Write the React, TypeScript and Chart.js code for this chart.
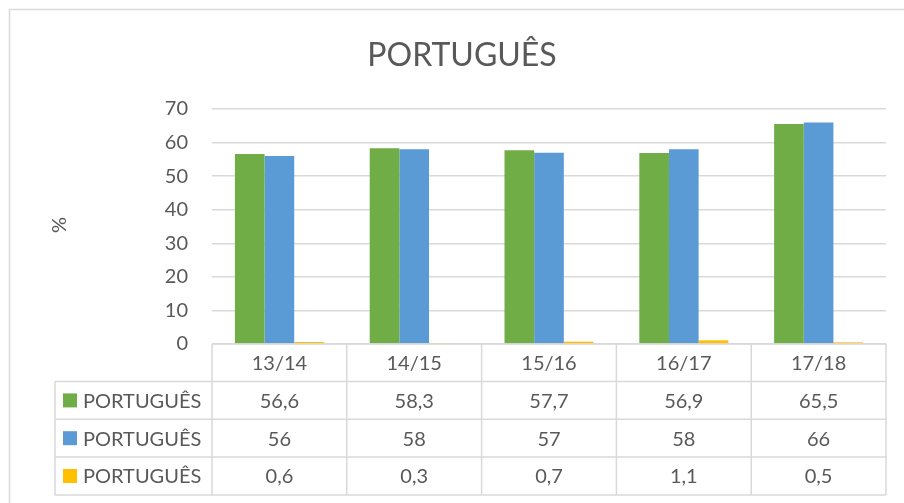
import React, { useEffect, useRef } from "react";
import { Chart, registerables } from "chart.js";

Chart.register(...registerables);

const chartTitle = "PORTUGUÊS";
const axisTitle = "%";
const categories = ["13/14", "14/15", "15/16", "16/17", "17/18"];
const seriesNames = ["PORTUGUÊS", "PORTUGUÊS", "PORTUGUÊS"];
const seriesGreen = [56.6, 58.3, 57.7, 56.9, 65.5];
const seriesBlue = [56, 58, 57, 58, 66];
const seriesYellow = [0.6, 0.3, 0.7, 1.1, 0.5];
const yMin = 0;
const yMax = 70;
const yStep = 10;

const COLORS = ["#70AD47", "#5B9BD5", "#FFC000"];
const TEXT = "#595959";
const GRID = "#D9D9D9";
const FONT = "Lato, 'Open Sans', sans-serif";

const fmt = (v: number) => String(v).replace(".", ",");

const decorPlugin = {
  id: "decor",
  beforeDraw(chart: any) {
    const ctx = chart.ctx;
    ctx.save();
    ctx.fillStyle = "#FFFFFF";
    ctx.fillRect(0, 0, chart.width, chart.height);
    ctx.strokeStyle = "#D9D9D9";
    ctx.lineWidth = 1.5;
    ctx.beginPath();
    ctx.moveTo(9.5, chart.height + 2);
    ctx.lineTo(9.5, 9.5);
    ctx.lineTo(chart.width + 2, 9.5);
    ctx.stroke();
    ctx.restore();
  },
  afterDraw(chart: any) {
    const ctx = chart.ctx;
    const { left, right, bottom } = chart.chartArea;
    const n = categories.length;
    const colW = (right - left) / n;
    const headerH = 37.5;
    const rowH = 37.8;
    const legendLeft = 55;
    const tableBottom = bottom + headerH + rowH * 3;
    ctx.save();

    // title
    ctx.fillStyle = TEXT;
    ctx.font = `32px ${FONT}`;
    ctx.textAlign = "center";
    ctx.textBaseline = "middle";
    ctx.fillText(chartTitle, (left + right) / 2 - 87, 56);

    // axis title
    ctx.save();
    ctx.translate(60, 225);
    ctx.rotate(-Math.PI / 2);
    ctx.font = `20px ${FONT}`;
    ctx.fillText(axisTitle, 0, 0);
    ctx.restore();

    // table lines
    ctx.strokeStyle = GRID;
    ctx.lineWidth = 1.5;
    ctx.beginPath();
    ctx.moveTo(left, bottom);
    ctx.lineTo(right, bottom);
    for (let r = 0; r < 3; r++) {
      const y = bottom + headerH + rowH * r;
      ctx.moveTo(legendLeft, y);
      ctx.lineTo(right, y);
    }
    ctx.moveTo(legendLeft, tableBottom);
    ctx.lineTo(right, tableBottom);
    ctx.moveTo(legendLeft, bottom + headerH);
    ctx.lineTo(legendLeft, tableBottom);
    for (let i = 0; i <= n; i++) {
      const x = left + colW * i;
      ctx.moveTo(x, bottom);
      ctx.lineTo(x, tableBottom);
    }
    ctx.stroke();

    // header labels
    ctx.fillStyle = TEXT;
    ctx.font = `20px ${FONT}`;
    ctx.textAlign = "center";
    ctx.textBaseline = "middle";
    const xs = chart.scales.x;
    categories.forEach((c, i) => {
      ctx.fillText(c, xs.getPixelForValue(i), bottom + headerH / 2 + 1);
    });

    // rows
    const rows = [seriesGreen, seriesBlue, seriesYellow];
    rows.forEach((vals, r) => {
      const yc = bottom + headerH + rowH * r + rowH / 2 + 1;
      ctx.fillStyle = COLORS[r];
      ctx.fillRect(63, yc - 8, 14, 14);
      ctx.fillStyle = TEXT;
      ctx.textAlign = "left";
      ctx.fillText(seriesNames[r], 83, yc);
      ctx.textAlign = "center";
      vals.forEach((v, i) => {
        ctx.fillText(fmt(v), xs.getPixelForValue(i), yc);
      });
    });
    ctx.restore();
  },
};

export default function App() {
  const ref = useRef<HTMLCanvasElement | null>(null);
  useEffect(() => {
    if (!ref.current) return;
    const chart = new Chart(ref.current, {
      type: "bar",
      data: {
        labels: categories,
        datasets: [
          { label: seriesNames[0], data: seriesGreen, backgroundColor: COLORS[0] },
          { label: seriesNames[1], data: seriesBlue, backgroundColor: COLORS[1] },
          { label: seriesNames[2], data: seriesYellow, backgroundColor: COLORS[2] },
        ],
      },
      options: {
        responsive: false,
        animation: false,
        layout: { padding: { left: 0, right: 18, top: 109, bottom: 159 } },
        datasets: {
          bar: { categoryPercentage: 0.66, barPercentage: 1, borderWidth: 0 },
        },
        plugins: {
          legend: { display: false },
          title: { display: false },
          tooltip: { enabled: false },
        },
        scales: {
          x: { display: false, grid: { display: false } },
          y: {
            min: yMin,
            max: yMax,
            ticks: {
              stepSize: yStep,
              color: TEXT,
              font: { family: FONT, size: 20 },
              padding: 24,
            },
            grid: { color: GRID, lineWidth: 1.5, drawTicks: false },
            border: { display: false },
            afterFit: (scale: any) => {
              scale.width = 212;
            },
          },
        },
      },
      plugins: [decorPlugin],
    });
    return () => chart.destroy();
  }, []);
  return (
    <div style={{ position: "fixed", left: 0, top: 0, width: 904, height: 503, background: "#fff" }}>
      <canvas ref={ref} width={904} height={503} style={{ width: 904, height: 503, display: "block" }} />
    </div>
  );
}
